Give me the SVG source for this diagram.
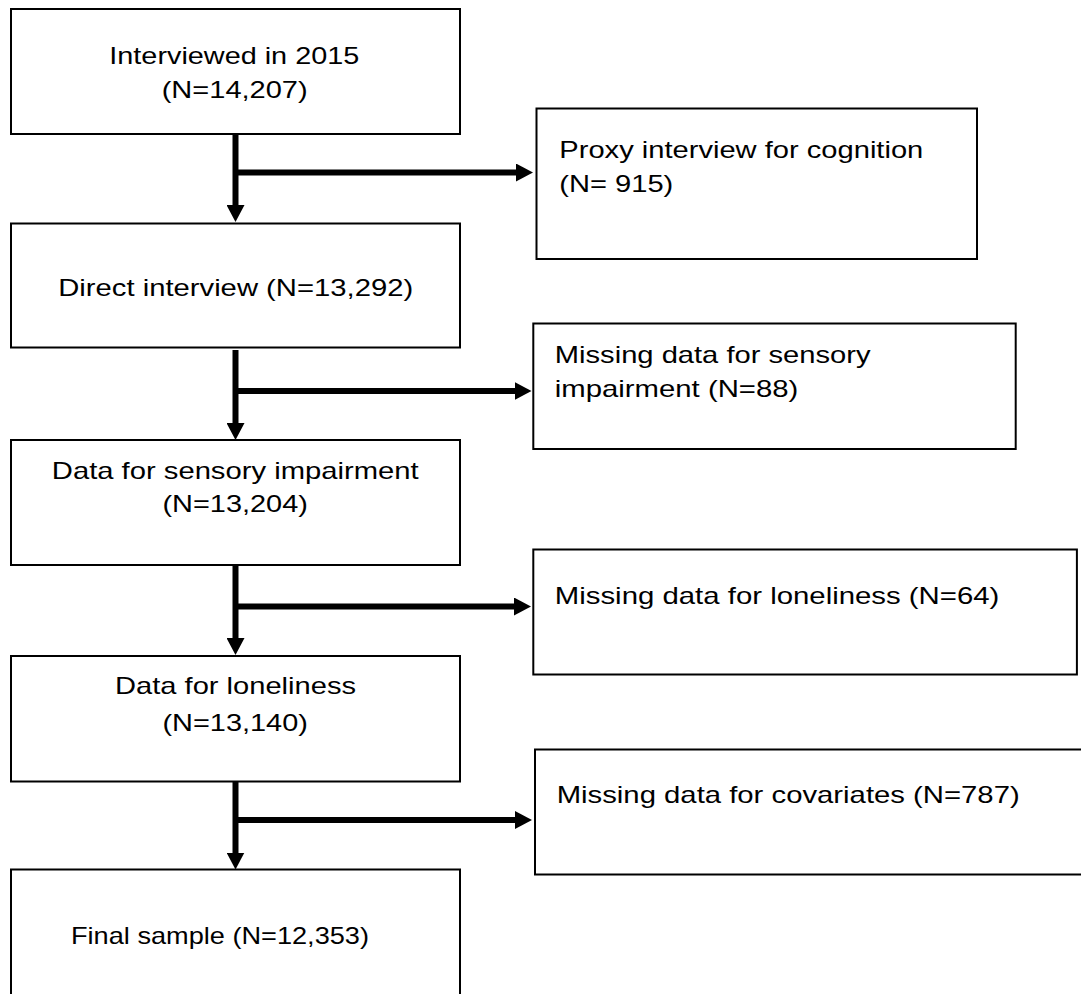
<svg xmlns="http://www.w3.org/2000/svg" width="1081" height="994" viewBox="0 0 1081 994">
<style>
.box{fill:#fff;stroke:#000;stroke-width:2}
.t{font-family:"Liberation Sans",Arial,sans-serif;font-size:24px;fill:#000}
.c{stroke:#000;stroke-width:6;fill:none}
</style>
<defs>
<marker id="ah" viewBox="0 0 17 18" refX="1" refY="9" markerWidth="17" markerHeight="18" markerUnits="userSpaceOnUse" orient="auto">
<path d="M0,0 L17,9 L0,18 z" fill="#000"/>
</marker>
</defs>
<rect width="1081" height="994" fill="#fff"/>
<g id="connectors">
<path class="c" d="M235.5,134 V206" marker-end="url(#ah)"/>
<path class="c" d="M235.5,172.5 H517" marker-end="url(#ah)"/>
<path class="c" d="M235.5,350 V424" marker-end="url(#ah)"/>
<path class="c" d="M235.5,391 H515.5" marker-end="url(#ah)"/>
<path class="c" d="M235.5,565 V639" marker-end="url(#ah)"/>
<path class="c" d="M235.5,606.5 H515" marker-end="url(#ah)"/>
<path class="c" d="M235.5,781 V853.5" marker-end="url(#ah)"/>
<path class="c" d="M235.5,820 H516" marker-end="url(#ah)"/>
</g>
<g id="n1">
<rect class="box" x="11" y="9" width="449" height="125"/>
<text class="t" x="109.3" y="64.3" textLength="250" lengthAdjust="spacingAndGlyphs">Interviewed in 2015</text>
<text class="t" x="161.7" y="98.3" textLength="146" lengthAdjust="spacingAndGlyphs">(N=14,207)</text>
</g>
<g id="n2">
<rect class="box" x="536.5" y="108.5" width="440.5" height="150.5"/>
<text class="t" x="559.3" y="157.5" textLength="364" lengthAdjust="spacingAndGlyphs">Proxy interview for cognition</text>
<text class="t" x="559.3" y="192" textLength="114" lengthAdjust="spacingAndGlyphs">(N= 915)</text>
</g>
<g id="n3">
<rect class="box" x="11" y="223.5" width="449" height="124"/>
<text class="t" x="58.2" y="295.5" textLength="355" lengthAdjust="spacingAndGlyphs">Direct interview (N=13,292)</text>
</g>
<g id="n4">
<rect class="box" x="533.3" y="323.5" width="482.4" height="125.5"/>
<text class="t" x="554.8" y="363.3" textLength="315.7" lengthAdjust="spacingAndGlyphs">Missing data for sensory</text>
<text class="t" x="554.8" y="396.7" textLength="243.5" lengthAdjust="spacingAndGlyphs">impairment (N=88)</text>
</g>
<g id="n5">
<rect class="box" x="11" y="440" width="449" height="125"/>
<text class="t" x="51.8" y="479" textLength="366.8" lengthAdjust="spacingAndGlyphs">Data for sensory impairment</text>
<text class="t" x="162.5" y="512" textLength="145.4" lengthAdjust="spacingAndGlyphs">(N=13,204)</text>
</g>
<g id="n6">
<rect class="box" x="533.3" y="549.5" width="543.6" height="125"/>
<text class="t" x="554.8" y="604" textLength="444.6" lengthAdjust="spacingAndGlyphs">Missing data for loneliness (N=64)</text>
</g>
<g id="n7">
<rect class="box" x="11" y="656" width="449" height="125.5"/>
<text class="t" x="115" y="694.3" textLength="241" lengthAdjust="spacingAndGlyphs">Data for loneliness</text>
<text class="t" x="162.5" y="730.7" textLength="145.4" lengthAdjust="spacingAndGlyphs">(N=13,140)</text>
</g>
<g id="n8">
<rect class="box" x="535" y="749.5" width="560" height="125"/>
<text class="t" x="556.7" y="803" textLength="463" lengthAdjust="spacingAndGlyphs">Missing data for covariates (N=787)</text>
</g>
<g id="n9">
<rect class="box" x="11" y="869.5" width="449" height="140"/>
<text class="t" x="71" y="944.3" textLength="298" lengthAdjust="spacingAndGlyphs">Final sample (N=12,353)</text>
</g>
</svg>
